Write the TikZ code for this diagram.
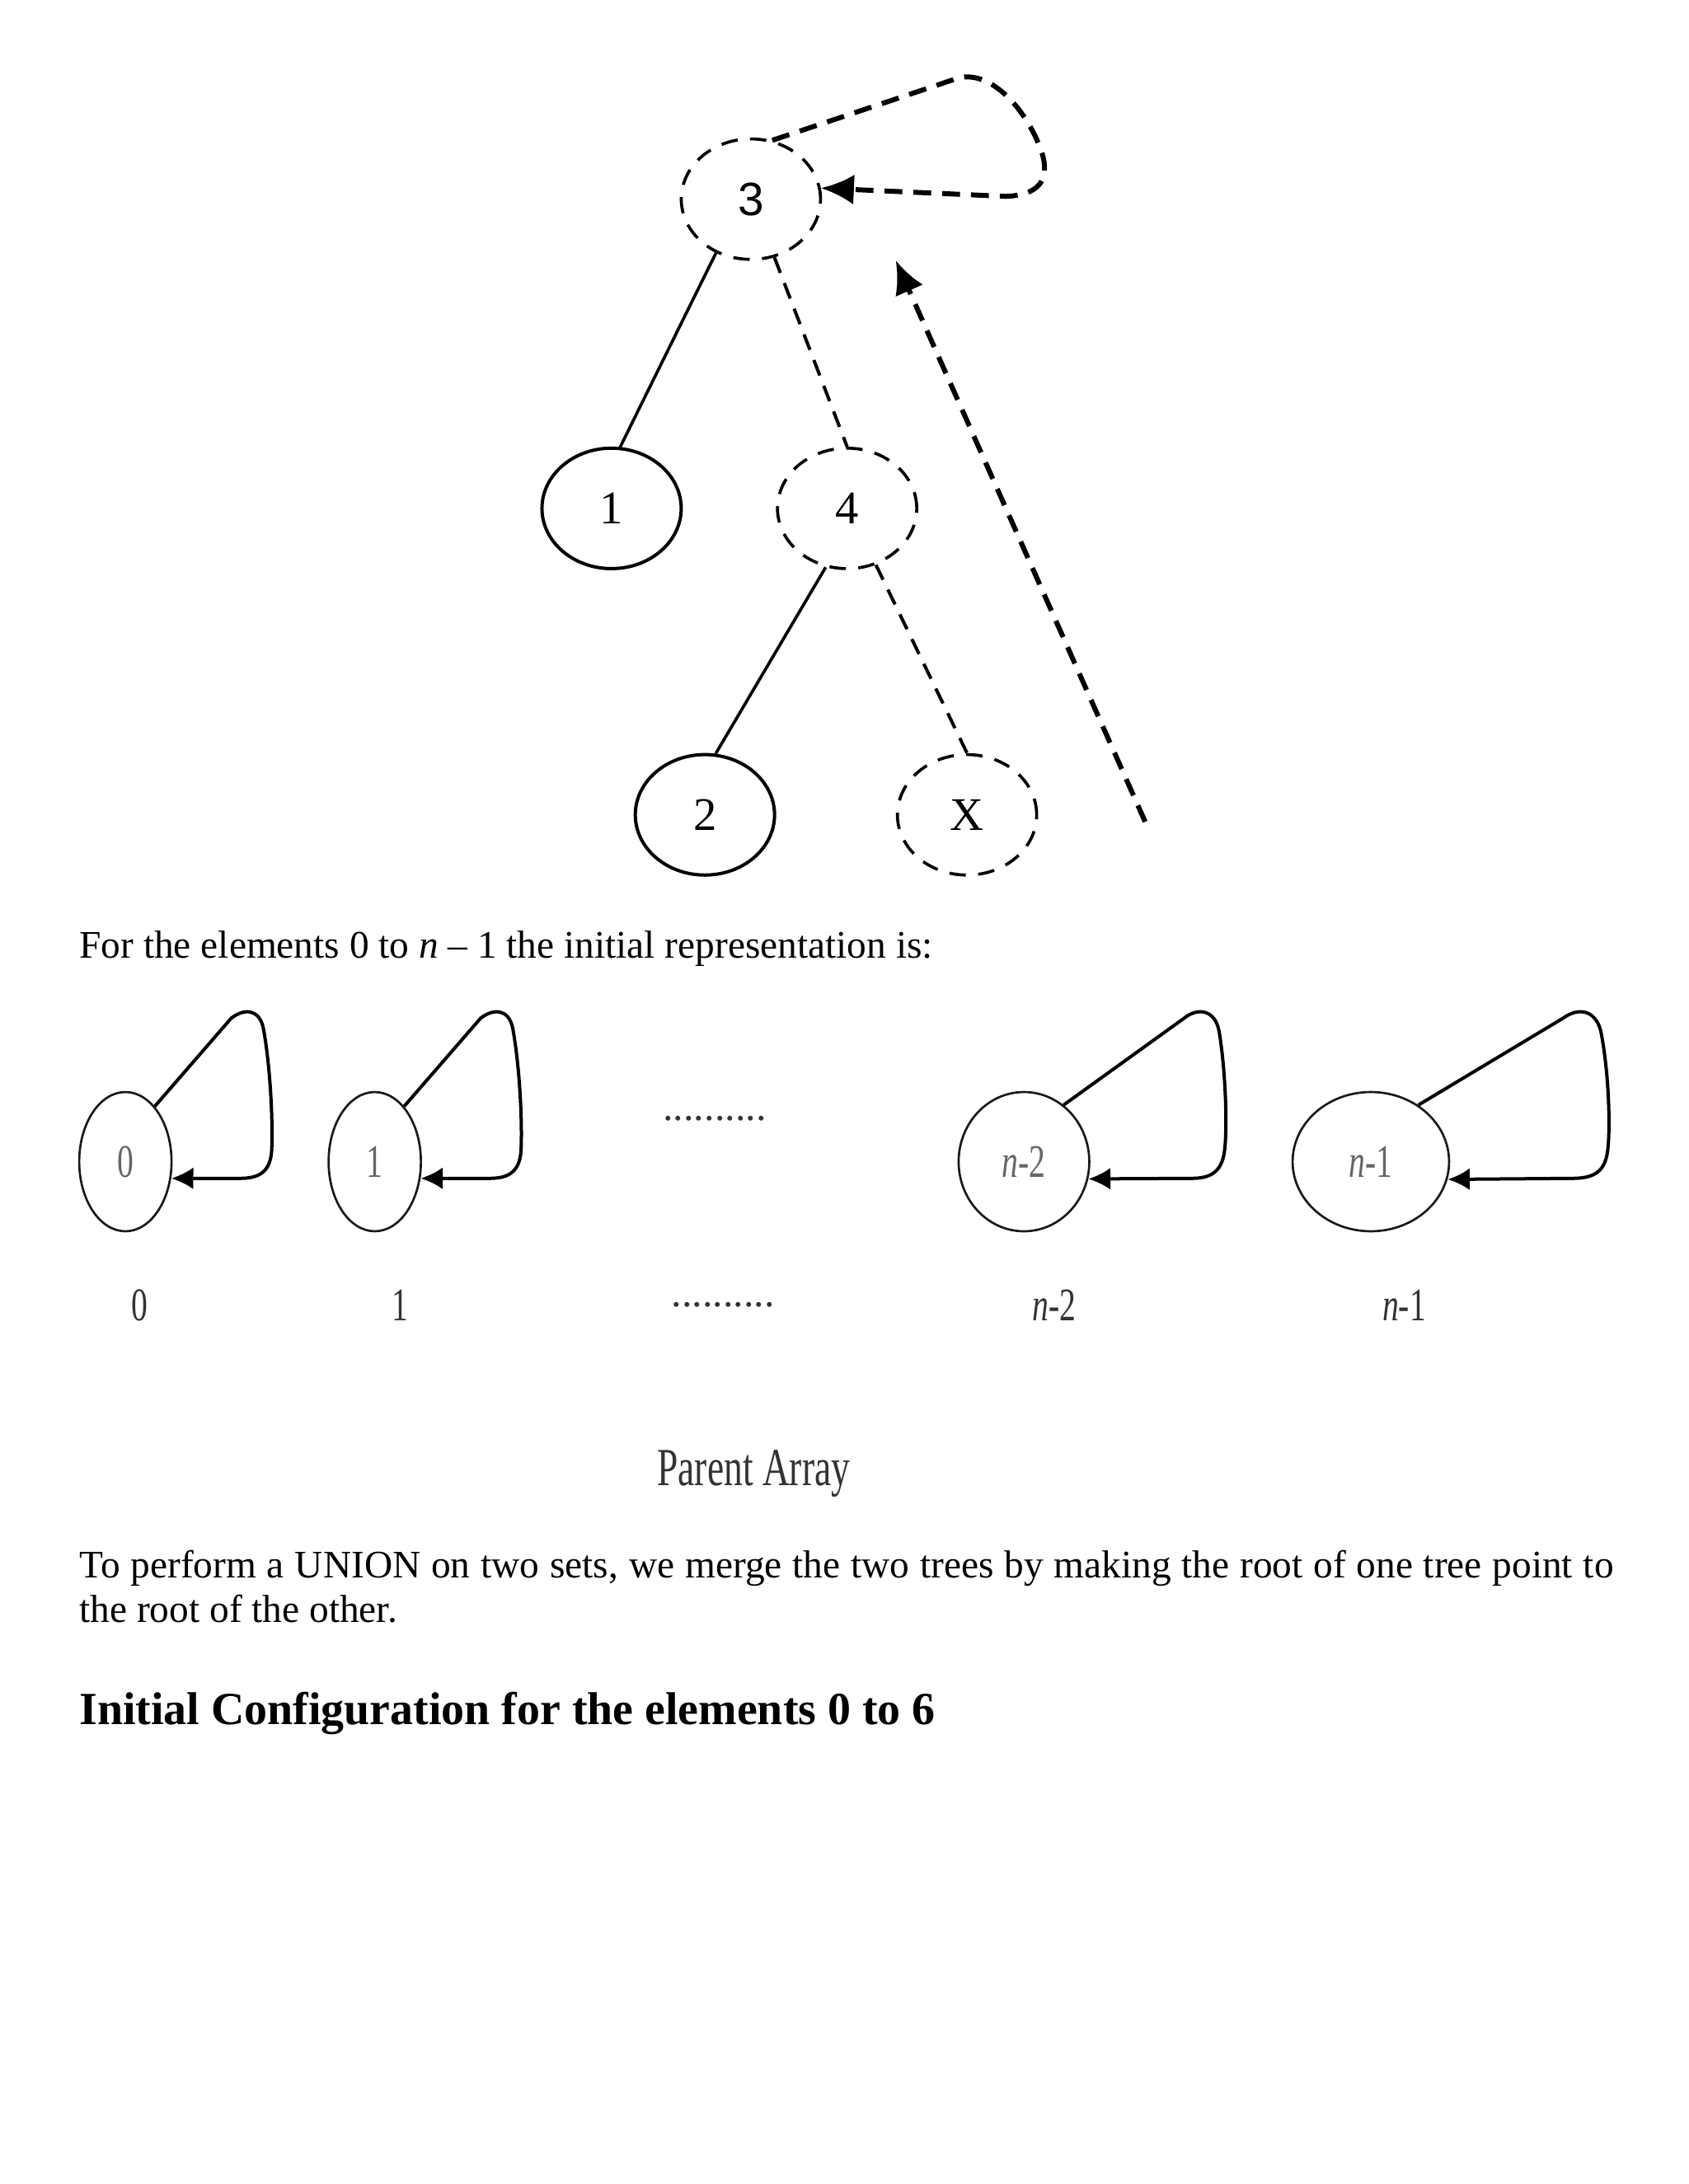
\documentclass[tikz,border=0pt]{standalone}
\usepackage{fontspec}
\setmainfont{Liberation Serif}
\setsansfont{Liberation Sans}
\usetikzlibrary{arrows.meta,shapes.geometric,positioning}

\newcommand{\squeezed}[1]{\scalebox{0.7}[1]{#1}}

\begin{document}
\begin{tikzpicture}[-,>={Latex[length=12pt,width=11pt]},x=0.017813cm,y=-0.017813cm,line width=1.1pt,
    tree/.style={ellipse,draw,line width=1.2pt,minimum width=1.78cm,minimum height=1.54cm,inner sep=0pt,font=\fontsize{17}{20}\selectfont},
    ghost/.style={tree,line width=1.1pt,dash pattern=on 6pt off 4.5pt},
    ghostline/.style={line width=1.2pt,dash pattern=on 6pt off 4pt},
    bigdash/.style={line width=1.8pt,dash pattern=on 6.5pt off 4pt},
    elem/.style={ellipse,draw=black!90,line width=0.8pt,minimum height=1.78cm,inner sep=0pt,font=\fontsize{17}{20}\selectfont,text=black!60},
    selfloop/.style={->,>={Latex[length=8pt,width=8pt]},line width=1.2pt},
    lbl/.style={inner sep=0pt,font=\fontsize{17}{20}\selectfont,text=black!80},
    para/.style={anchor=base west,inner sep=0pt,font=\fontsize{14.2}{16.2}\selectfont}]

\useasboundingbox (0,0) rectangle (1212,1568);

% the tree after the union
\node[ghost] (T3) at (539,143) {\sffamily 3};
\node[tree]  (T1) at (439,365) {1};
\node[ghost] (T4) [right=1.19cm of T1] {4};
\node[tree]  (T2) at (506,585) {2};
\node[ghost] (TX) [right=1.53cm of T2] {X};

\path (T3.237) edge (T1.82)
      (T3.292) edge[ghostline] (T4.north)
      (T4.250) edge (T2.80)
      (T4.297) edge[ghostline] (TX.north);

\draw[bigdash,->] (T3.70) -- (688,56) .. controls (712,50) and (738,80) .. (748,110)
      .. controls (754,130) and (745,140) .. (722,141) -- (T3.9);

\coordinate (tail) at (822,590);
\coordinate (head) at (643,187);
\draw[bigdash,->] (tail) -- (head);

\node[para] (intro) at (56,688) {For the elements 0 to \textit{n} – 1 the initial representation is:};

% parent array
\node[elem,minimum width=1.18cm] (P0) at (90,834) {\squeezed{0}};
\node[elem,minimum width=1.18cm] (P1) at (269,834) {\squeezed{1}};
\node[elem,minimum width=1.67cm] (P2) at (735,834) {\squeezed{\textit{n}-2}};
\node[elem,minimum width=2.0cm]  (P3) at (984,834) {\squeezed{\textit{n}-1}};

\draw[selfloop] (P0.62) -- (166,731) .. controls (175,724) and (186,724) .. (189,738)
      .. controls (194,765) and (196,805) .. (195,826) .. controls (194,843) and (184,846) .. (172,846) -- (P0.340);
\draw[selfloop] (P1.62) -- (345,731) .. controls (354,724) and (365,724) .. (368,738)
      .. controls (373,765) and (375,805) .. (374,826) .. controls (373,843) and (363,846) .. (351,846) -- (P1.340);
\draw[selfloop] (P2.55) -- (850,731) .. controls (860,723) and (872,725) .. (875,740)
      .. controls (880,770) and (881,810) .. (879,826) .. controls (877,843) and (867,846) .. (855,846) -- (P2.345);
\draw[selfloop] (P3.50) -- (1122,731) .. controls (1133,723) and (1145,725) .. (1149,740)
      .. controls (1155,770) and (1156,810) .. (1154,826) .. controls (1152,843) and (1142,846) .. (1128,846) -- (P3.347);

\node[lbl,font=\fontsize{15}{16}\selectfont] (D1) at (513,803) {..........};
\node[lbl,font=\fontsize{15}{16}\selectfont] (D2) at (519,937) {..........};

\node[lbl] (L0) at (100,937) {\squeezed{0}};
\node[lbl] (L1) at (287,937) {\squeezed{1}};
\node[lbl] (L2) at (757,937) {\squeezed{\textit{n}-2}};
\node[lbl] (L3) at (1008,937) {\squeezed{\textit{n}-1}};

\node[lbl,font=\fontsize{19.5}{22}\selectfont] (parent) at (541,1058) {\squeezed{Parent Array}};

\node[para,text width=19.61cm,align=justify] (union) at (56,1133) {To perform a UNION on two sets, we merge the two trees by making the root of one tree point to\linebreak the root of the other.};

\node[para,font=\fontsize{16.75}{20}\selectfont\bfseries] (config) at (56,1238) {Initial Configuration for the elements 0 to 6};

\end{tikzpicture}
\end{document}
